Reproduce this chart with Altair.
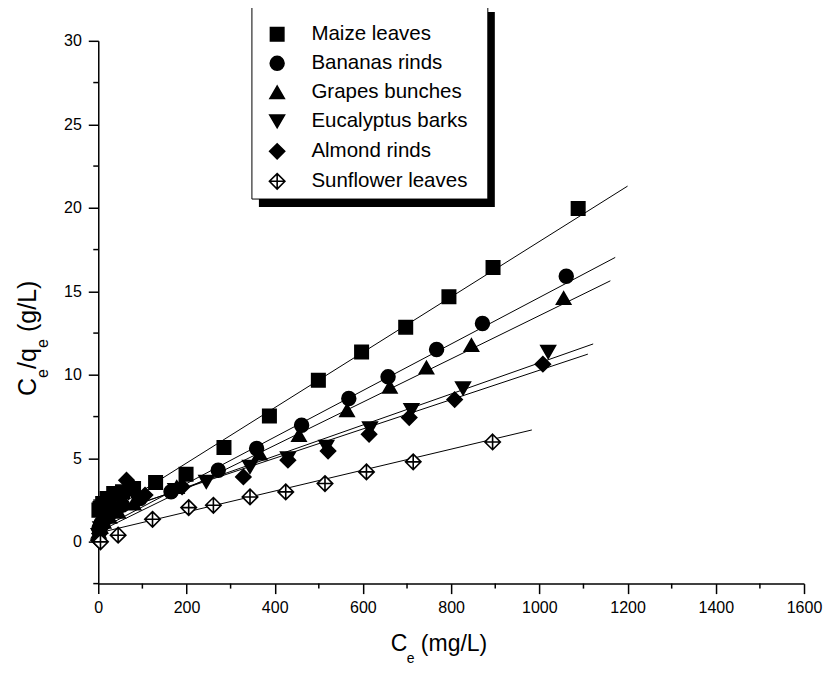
import altair as alt
import pandas as pd

# ---------------- data ----------------
series = ["Maize leaves", "Bananas rinds", "Grapes bunches",
          "Eucalyptus barks", "Almond rinds", "Sunflower leaves"]

maize_x = [1.5, 4, 10, 20, 35, 55, 80, 130, 199, 285, 388, 499, 597, 697, 795, 895, 1088]
maize_y = [1.9, 2.0, 2.3, 2.6, 2.9, 3.0, 3.2, 3.55, 4.05, 5.65, 7.54, 9.68, 11.37, 12.85, 14.67, 16.43, 19.96]

banana_x = [1.5, 6, 15, 30, 55, 95, 165, 272, 359, 461, 568, 657, 767, 871, 1061]
banana_y = [0.8, 1.1, 1.4, 1.8, 2.2, 2.6, 3.0, 4.29, 5.59, 6.98, 8.58, 9.88, 11.52, 13.07, 15.9]

grape_x = [1.0, 5, 12, 25, 45, 80, 178, 366, 455, 564, 661, 744, 846, 1055]
grape_y = [0.6, 0.9, 1.2, 1.5, 1.8, 2.3, 3.29, 5.29, 6.39, 7.88, 9.28, 10.44, 11.78, 14.6]

euc_x = [1.0, 5, 14, 28, 50, 90, 175, 245, 344, 430, 517, 616, 710, 827, 1020]
euc_y = [0.4, 0.8, 1.1, 1.5, 1.9, 2.4, 3.1, 3.59, 4.49, 5.0, 5.69, 6.79, 7.88, 9.18, 11.37]

almond_x = [0.5, 3, 9, 20, 38, 64, 106, 190, 329, 430, 521, 614, 705, 808, 1008]
almond_y = [0.1, 0.5, 0.9, 1.4, 2.0, 3.69, 2.8, 3.3, 3.89, 4.89, 5.44, 6.44, 7.44, 8.52, 10.64]

sun_x = [5, 45, 123, 205, 261, 344, 425, 514, 608, 714, 894]
sun_y = [0.0, 0.4, 1.35, 2.05, 2.19, 2.69, 2.99, 3.49, 4.19, 4.79, 5.98]

# fitted straight lines (start / end)
fit_x0 = [0, 0, 0, 0, 0, 0]
fit_y0 = [1.4, 0.7, 0.6, 1.42, 1.49, 0.53]
fit_x1 = [1200, 1172, 1161, 1122, 1110, 983]
fit_y1 = [21.3, 17.03, 15.63, 11.85, 11.24, 6.7]

x_major = [0, 200, 400, 600, 800, 1000, 1200, 1400, 1600]
x_minor = [100, 300, 500, 700, 900, 1100, 1300, 1500]
y_major = [0, 5, 10, 15, 20, 25, 30]
y_minor = [-2.5, 2.5, 7.5, 12.5, 17.5, 22.5, 27.5]

# ---------------- tables ----------------
xs = [maize_x, banana_x, grape_x, euc_x, almond_x, sun_x]
ys = [maize_y, banana_y, grape_y, euc_y, almond_y, sun_y]
rows = []
for s, xx, yy in zip(series, xs, ys):
    for a, b in zip(xx, yy):
        rows.append({"series": s, "ce": a, "r": b})
pts = pd.DataFrame(rows)

lrows = []
for s, a0, b0, a1, b1 in zip(series, fit_x0, fit_y0, fit_x1, fit_y1):
    lrows.append({"series": s, "ce": a0, "r": b0})
    lrows.append({"series": s, "ce": a1, "r": b1})
lines = pd.DataFrame(lrows)

W, H = 706, 543
OX, OY = 98.3, 40.7  # page position of plot origin
FONT = "Liberation Sans"

xscale = alt.Scale(domain=[0, 1600], nice=False, zero=False)
yscale = alt.Scale(domain=[-2.5, 30], nice=False, zero=False)

sunflower_path = "M0,-1L1,0L0,1L-1,0Z M-1,0L1,0 M0,-1L0,1"
shape_scale = alt.Scale(domain=series,
                        range=["square", "circle", "triangle-up", "triangle-down", "diamond", sunflower_path])
fill_scale = alt.Scale(domain=series, range=["black", "black", "black", "black", "black", "white"])
stroke_scale = alt.Scale(domain=series, range=["black"] * 6)
size_scale = alt.Scale(domain=series, range=[180, 240, 440, 440, 420, 380])

leg = alt.Legend(title=None, orient="none", legendX=278 - 11 - OX, legendY=35 - 11 - OY,
                 labelFontSize=20.5, labelFont=FONT, labelColor="black", labelOffset=24,
                 rowPadding=8, padding=0, symbolStrokeWidth=1.6, symbolOpacity=1)

x_axis = alt.Axis(values=x_major, format="d", tickSize=10, tickWidth=1.5, domainWidth=1.5,
                  domainColor="black", tickColor="black", labelFontSize=16, labelFont=FONT,
                  labelColor="black", labelPadding=6, grid=False, title=None, orient="bottom",
                  labelFlush=False)
y_axis = alt.Axis(values=y_major, format="d", tickSize=10, tickWidth=1.5, domainWidth=1.5,
                  domainColor="black", tickColor="black", labelFontSize=16, labelFont=FONT,
                  labelColor="black", labelPadding=7, grid=False, title=None, orient="left",
                  labelFlush=False)

one = pd.DataFrame({"k": [0]})

shadow = alt.Chart(one).mark_rect(fill="black").encode(
    x=alt.value(259 - OX), x2=alt.value(495 - OX), y=alt.value(12 - OY), y2=alt.value(207 - OY))
frame = alt.Chart(one).mark_rect(fill="white", stroke="black", strokeWidth=1).encode(
    x=alt.value(252 - OX), x2=alt.value(488 - OX), y=alt.value(5 - OY), y2=alt.value(199 - OY))

# minor ticks, placed through the axis scales
xminor = alt.Chart(pd.DataFrame({"v": x_minor})).mark_rule(color="black", strokeWidth=1.5).encode(
    x=alt.X("v:Q", scale=xscale, axis=x_axis), y=alt.value(H), y2=alt.value(H + 5))
yminor = alt.Chart(pd.DataFrame({"v": y_minor})).mark_rule(color="black", strokeWidth=1.5).encode(
    y=alt.Y("v:Q", scale=yscale, axis=y_axis), x=alt.value(0), x2=alt.value(-5))

fit = alt.Chart(lines).mark_line(color="black", strokeWidth=1).encode(
    x=alt.X("ce:Q", scale=xscale, axis=x_axis),
    y=alt.Y("r:Q", scale=yscale, axis=y_axis),
    detail="series:N")

marks = alt.Chart(pts).mark_point(filled=True, opacity=1, strokeWidth=1.6).encode(
    x=alt.X("ce:Q", scale=xscale, axis=x_axis),
    y=alt.Y("r:Q", scale=yscale, axis=y_axis),
    shape=alt.Shape("series:N", scale=shape_scale, legend=leg),
    fill=alt.Fill("series:N", scale=fill_scale, legend=leg),
    stroke=alt.Stroke("series:N", scale=stroke_scale, legend=leg),
    size=alt.Size("series:N", scale=size_scale, legend=leg),
)

def txt(t, px, py, fs, angle=0):
    return alt.Chart(one).mark_text(text=t, font=FONT, fontSize=fs, color="black", align="left",
                                    baseline="alphabetic", angle=angle).encode(
        x=alt.value(px - OX), y=alt.value(py - OY))

# x title  C_e (mg/L)
xt = [txt("C", 391, 651, 23), txt("e", 407, 663, 14), txt("(mg/L)", 421, 651, 23)]
# y title  C_e/q_e (g/L), rotated (reads bottom to top)
yt = [txt("C", 36, 396, 25, 270), txt("e", 48, 378, 16, 270), txt("/q", 36, 369, 25, 270),
      txt("e", 48, 348, 16, 270), txt("(g/L)", 36, 332, 25, 270)]

chart = alt.layer(shadow, frame, fit, xminor, yminor, marks, *xt, *yt).properties(
    width=W, height=H,
    autosize=alt.AutoSizeParams(type="none"),
    padding={"left": OX - 8, "top": OY - 8, "right": 20, "bottom": 674 - 16 - OY - H + 8},
    background="white",
).configure(font=FONT).configure_view(strokeWidth=0, stroke="transparent")

chart.save("out.html", embed_options={"renderer": "svg", "actions": False})
